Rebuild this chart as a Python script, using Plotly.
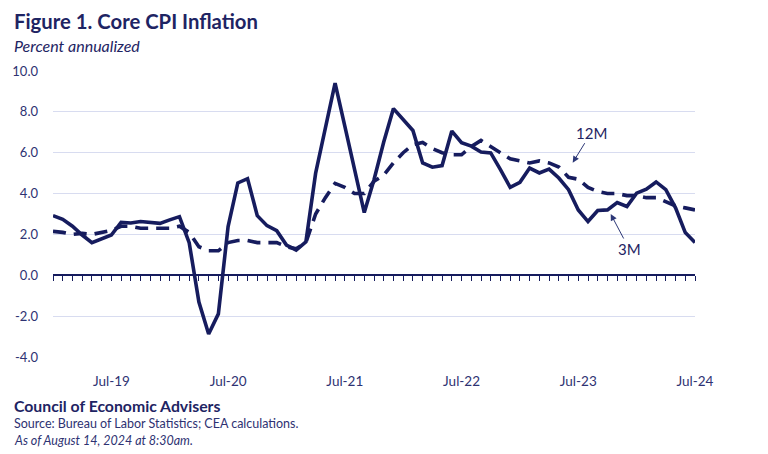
import plotly.graph_objects as go

months = []
for yr in range(2019, 2025):
    for m in ["Jan", "Feb", "Mar", "Apr", "May", "Jun", "Jul", "Aug", "Sep", "Oct", "Nov", "Dec"]:
        months.append(f"{m}-{str(yr)[2:]}")
months = months[:67]  # Jan-19 .. Jul-24

three_month = [2.92, 2.74, 2.40, 1.97, 1.60, 1.77, 1.97, 2.59, 2.56, 2.63, 2.59, 2.54,
               2.71, 2.87, 1.60, -1.31, -2.87, -1.89, 2.38, 4.52, 4.73, 2.92, 2.43, 2.18,
               1.48, 1.23, 1.64, 5.00, 7.20, 9.41, 7.30, 5.17, 3.07, 4.68, 6.52, 8.16,
               7.64, 7.09, 5.50, 5.29, 5.37, 7.06, 6.49, 6.32, 6.03, 5.99, 5.17, 4.30,
               4.55, 5.25, 5.01, 5.20, 4.76, 4.19, 3.20, 2.63, 3.17, 3.20, 3.56, 3.37,
               4.02, 4.22, 4.57, 4.19, 3.30, 2.09, 1.60]

twelve_month = [2.15, 2.10, 2.00, 2.05, 2.00, 2.10, 2.20, 2.40, 2.40, 2.30, 2.30, 2.30,
                2.30, 2.40, 2.10, 1.40, 1.20, 1.20, 1.60, 1.70, 1.70, 1.60, 1.60, 1.60,
                1.40, 1.30, 1.60, 3.00, 3.80, 4.50, 4.30, 4.00, 4.00, 4.60, 4.90, 5.50,
                6.00, 6.40, 6.50, 6.20, 6.00, 5.90, 5.90, 6.30, 6.60, 6.30, 6.00, 5.70,
                5.60, 5.50, 5.60, 5.50, 5.30, 4.80, 4.70, 4.30, 4.10, 4.00, 4.00, 3.90,
                3.90, 3.80, 3.80, 3.60, 3.40, 3.30, 3.20]

x_tick_labels = ["Jul-19", "Jul-20", "Jul-21", "Jul-22", "Jul-23", "Jul-24"]
y_tick_vals = [-4, -2, 0, 2, 4, 6, 8, 10]
y_tick_text = ["-4.0", "-2.0", "0.0", "2.0", "4.0", "6.0", "8.0", "10.0"]

NAVY = "#161c5e"
TEXT = "#1e2463"
LABEL = "#2e3272"
FONT = "Lato"

W, H = 768, 454
L, R, T, B = 53, 73, 71, 97
pw, ph = W - L - R, H - T - B

def px(xp):
    return (xp - L) / pw

def py(yp):
    return (H - B - yp) / ph

fig = go.Figure()
# invisible helper trace so the month tick axis along zero is drawn
fig.add_trace(go.Scatter(x=list(range(len(months))), y=[None] * len(months), xaxis="x2",
                         mode="lines", hoverinfo="skip", showlegend=False))
fig.add_trace(go.Scatter(x=months, y=twelve_month, mode="lines", name="12M",
                         line=dict(color=NAVY, width=3.6, dash="13px,8px")))
fig.add_trace(go.Scatter(x=months, y=three_month, mode="lines", name="3M",
                         line=dict(color=NAVY, width=3.6)))

fig.update_layout(
    width=W, height=H, margin=dict(l=L, r=R, t=T, b=B),
    paper_bgcolor="white", plot_bgcolor="white", showlegend=False,
    font=dict(family=FONT, color=LABEL, size=13),
    xaxis=dict(type="category", range=[0, len(months) - 1], tickmode="array",
               tickvals=x_tick_labels, ticktext=x_tick_labels, showgrid=False,
               showline=False, zeroline=False, ticks="", ticklabelstandoff=14,
               tickfont=dict(size=13.5, color=LABEL)),
    xaxis2=dict(overlaying="x", anchor="free", position=4 / 14, range=[0, len(months) - 1],
                type="linear", tickmode="linear", tick0=0, dtick=1, showticklabels=False,
                showgrid=False, zeroline=False, showline=True, linecolor=NAVY, linewidth=2,
                ticks="outside", ticklen=5, tickwidth=1, tickcolor=NAVY, layer="below traces"),
    yaxis=dict(range=[-4, 10], tickmode="array", tickvals=y_tick_vals, ticktext=y_tick_text,
               showgrid=True, gridcolor="#d8dcf0", gridwidth=1, zeroline=False,
               showline=False, ticks="", ticklabelstandoff=14,
               tickfont=dict(size=13, color=LABEL)),
)

annotations = [
    dict(text="<b>Figure 1. Core CPI Inflation</b>", x=px(12), y=py(21), font=dict(size=20.3, color=TEXT)),
    dict(text="<i>Percent annualized</i>", x=px(12), y=py(45), font=dict(size=16, color=TEXT)),
    dict(text="<b>Council of Economic Advisers</b>", x=px(12), y=py(405), font=dict(size=15.8, color=TEXT)),
    dict(text="Source: Bureau of Labor Statistics; CEA calculations.", x=px(12), y=py(424), font=dict(size=12.5, color=LABEL)),
    dict(text="<i>As of August 14, 2024 at 8:30am.</i>", x=px(12), y=py(440), font=dict(size=12.5, color=LABEL)),
]
for a in annotations:
    fig.add_annotation(xref="paper", yref="paper", xanchor="left", yanchor="middle",
                       showarrow=False, **a)

# series labels with arrows
fig.add_annotation(xref="paper", yref="paper", x=px(572.7), y=py(162.7), text="12M",
                   showarrow=True, ax=18.5, ay=-30, arrowhead=2, arrowsize=1.3, arrowwidth=1,
                   arrowcolor="#2d3877", font=dict(size=15, color=TEXT))
fig.add_annotation(xref="paper", yref="paper", x=px(610.7), y=py(214), text="3M",
                   showarrow=True, ax=18.5, ay=35, arrowhead=2, arrowsize=1.3, arrowwidth=1,
                   arrowcolor="#2d3877", font=dict(size=15, color=TEXT))

fig.write_html("out.html")
